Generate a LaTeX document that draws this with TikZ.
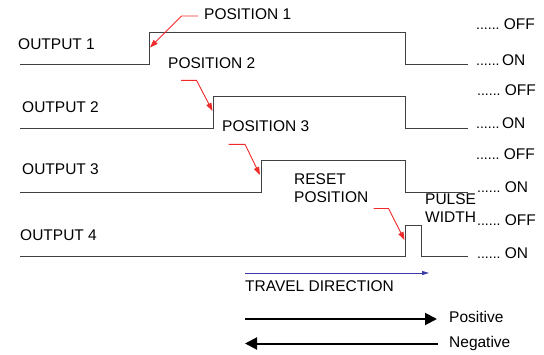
\documentclass[tikz,border=0pt]{standalone}
\usepackage{fontspec}
\setmainfont{Liberation Sans}
\usetikzlibrary{arrows.meta}
\definecolor{sig}{HTML}{404040}
\definecolor{lead}{HTML}{EE2A2A}
\definecolor{trav}{HTML}{3C3CA8}
\newcommand{\lvdots}{{\fontsize{14}{14}\selectfont......}}
\begin{document}
\begin{tikzpicture}[x=1pt,y=-1pt,
  lbl/.style={anchor=base west,inner sep=0pt,font=\fontsize{15.5}{18}\selectfont},
  signal/.style={draw=sig,line width=1pt},
  leader/.style={draw=lead,line width=0.9pt,-{Triangle[length=8pt,width=5.5pt]}},
  bigarrow/.style={draw=black,line width=2pt,-{Triangle[length=12pt,width=12pt]}}]
\useasboundingbox (0,0) rectangle (544,354);
% signal levels
\coordinate (s1a) at (20,64.5);   \coordinate (s1b) at (468,64.5);
\coordinate (s2a) at (20,128.5);  \coordinate (s2b) at (468,128.5);
\coordinate (s3a) at (20,192.5);  \coordinate (s3b) at (468,192.5);
\coordinate (s4a) at (20,256.5);  \coordinate (s4b) at (468,256.5);
% waveforms
\draw[signal] (s1a) -- (149,64.5) -- (149,32.5) -- (405,32.5) -- (405,64.5) -- (s1b);
\draw[signal] (s2a) -- (213,128.5) -- (213,96.5) -- (405,96.5) -- (405,128.5) -- (s2b);
\draw[signal] (s3a) -- (261,192.5) -- (261,160.5) -- (405,160.5) -- (405,192.5) -- (s3b);
\draw[signal] (s4a) -- (405,256.5) -- (405,225.5) -- (421,225.5) -- (421,256.5) -- (s4b);
% output labels
\node[lbl] (o1) at (18,49) {OUTPUT 1};
\node[lbl] (o2) at (22,112.5) {OUTPUT 2};
\node[lbl] (o3) at (22,174) {OUTPUT 3};
\node[lbl] (o4) at (20,240.3) {OUTPUT 4};
% level labels
\node[lbl] (f1) at (476,29) {\lvdots\ OFF};
\node[lbl] (n1) at (476,65) {\lvdots\,ON};
\node[lbl] (f2) at (477,95) {\lvdots\ OFF};
\node[lbl] (n2) at (476,128.3) {\lvdots\,ON};
\node[lbl] (f3) at (476,159.3) {\lvdots\ OFF};
\node[lbl] (n3) at (477,192) {\lvdots\ ON};
\node[lbl] (f4) at (477,225.3) {\lvdots\ OFF};
\node[lbl] (n4) at (477,258.7) {\lvdots\ ON};
% position labels
\node[lbl] (p1) at (204,19) {POSITION 1};
\node[lbl] (p2) at (168,68.3) {POSITION 2};
\node[lbl] (p3) at (222,131.7) {POSITION 3};
\node[lbl,align=left,anchor=base west] (rp) at (294,202) {RESET\\POSITION};
\node[lbl,align=left,anchor=base west] (pw) at (425,222) {PULSE\\WIDTH};
% leader lines
\coordinate (l1a) at (198,16);  \coordinate (l1b) at (181.5,16);  \coordinate (t1) at (150,47.5);
\coordinate (l2a) at (181,80.3); \coordinate (l2b) at (196.5,80.3); \coordinate (t2) at (212.5,111);
\coordinate (l3a) at (228.5,144.3); \coordinate (l3b) at (245,144.3); \coordinate (t3) at (260,175);
\coordinate (l4a) at (373.5,208.5); \coordinate (l4b) at (388.5,208.5); \coordinate (t4) at (404.5,240);
\draw[leader] (l1a) -- (l1b) -- (t1);
\draw[leader] (l2a) -- (l2b) -- (t2);
\draw[leader] (l3a) -- (l3b) -- (t3);
\draw[leader] (l4a) -- (l4b) -- (t4);
% travel direction
\coordinate (ta) at (245,273); \coordinate (tb) at (429,273);
\draw[draw=trav,line width=0.9pt,-{Triangle[length=7pt,width=4pt]}] (ta) -- (tb);
\node[lbl] (td) at (245,291.3) {TRAVEL DIRECTION};
% positive / negative
\coordinate (pa) at (245,319); \coordinate (pb) at (437,319);
\coordinate (na) at (438,343.5); \coordinate (nb) at (245,343.5);
\draw[bigarrow] (pa) -- (pb);
\draw[bigarrow] (na) -- (nb);
\node[lbl] (pos) at (449,322) {Positive};
\node[lbl] (neg) at (449,347) {Negative};
\end{tikzpicture}
\end{document}
